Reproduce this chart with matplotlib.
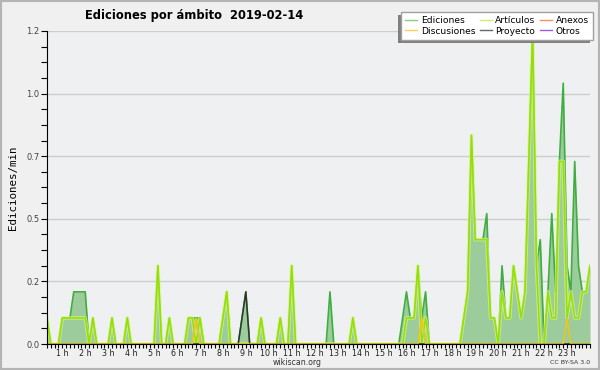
import numpy as np
import matplotlib.pyplot as plt
from matplotlib.lines import Line2D
from matplotlib.patches import Rectangle

# edits per minute, one value per 10-minute slot (one row per hour)
ediciones = [
    0.1, 0, 0, 0, 0.1, 0.1,
    0.1, 0.2, 0.2, 0.2, 0.2, 0,
    0.1, 0, 0, 0, 0, 0.1,
    0, 0, 0, 0.1, 0, 0,
    0, 0, 0, 0, 0, 0.3,
    0, 0, 0.1, 0, 0, 0,
    0, 0.1, 0.1, 0.1, 0.1, 0,
    0, 0, 0, 0, 0.1, 0.2,
    0, 0, 0, 0.1, 0.2, 0,
    0, 0, 0.1, 0, 0, 0,
    0, 0.1, 0, 0, 0.3, 0,
    0, 0, 0, 0, 0, 0,
    0, 0, 0.2, 0, 0, 0,
    0, 0, 0.1, 0, 0, 0,
    0, 0, 0, 0, 0, 0,
    0, 0, 0, 0.1, 0.2, 0.1,
    0.1, 0.3, 0.1, 0.2, 0, 0,
    0, 0, 0, 0, 0, 0,
    0, 0.1, 0.2, 0.8, 0.4, 0.4,
    0.4, 0.5, 0.1, 0.1, 0, 0.3,
    0.1, 0.1, 0.3, 0.2, 0.1, 0.2,
    0.7, 1.2, 0.3, 0.4, 0, 0.2,
    0.5, 0.2, 0.7, 1.0, 0.3, 0.2,
    0.7, 0.3, 0.2, 0.2, 0.3,
]
articulos = [
    0.1, 0, 0, 0, 0.1, 0.1,
    0.1, 0.1, 0.1, 0.1, 0.1, 0,
    0.1, 0, 0, 0, 0, 0.1,
    0, 0, 0, 0.1, 0, 0,
    0, 0, 0, 0, 0, 0.3,
    0, 0, 0.1, 0, 0, 0,
    0, 0.1, 0.1, 0, 0.1, 0,
    0, 0, 0, 0, 0.1, 0.2,
    0, 0, 0, 0, 0, 0,
    0, 0, 0.1, 0, 0, 0,
    0, 0.1, 0, 0, 0.3, 0,
    0, 0, 0, 0, 0, 0,
    0, 0, 0, 0, 0, 0,
    0, 0, 0.1, 0, 0, 0,
    0, 0, 0, 0, 0, 0,
    0, 0, 0, 0, 0.1, 0.1,
    0.1, 0.3, 0, 0.1, 0, 0,
    0, 0, 0, 0, 0, 0,
    0, 0.1, 0.2, 0.8, 0.4, 0.4,
    0.4, 0.4, 0.1, 0.1, 0, 0.2,
    0.1, 0.1, 0.3, 0.2, 0.1, 0.2,
    0.7, 1.2, 0.3, 0, 0, 0.2,
    0.1, 0.1, 0.7, 0.7, 0.1, 0.2,
    0.1, 0.1, 0.2, 0.2, 0.3,
]
discusiones = [
    0, 0, 0, 0, 0, 0,  0, 0, 0, 0, 0, 0,  0, 0, 0, 0, 0, 0,
    0, 0, 0, 0, 0, 0,  0, 0, 0, 0, 0, 0,  0, 0, 0, 0, 0, 0,
    0, 0, 0, 0.1, 0, 0,  0, 0, 0, 0, 0, 0,  0, 0, 0, 0, 0, 0,
    0, 0, 0, 0, 0, 0,  0, 0, 0, 0, 0, 0,  0, 0, 0, 0, 0, 0,
    0, 0, 0, 0, 0, 0,  0, 0, 0, 0, 0, 0,  0, 0, 0, 0, 0, 0,
    0, 0, 0, 0, 0, 0,  0, 0, 0.1, 0, 0, 0,  0, 0, 0, 0, 0, 0,
    0, 0, 0, 0, 0, 0,  0, 0, 0, 0, 0, 0,  0, 0, 0, 0, 0, 0,
    0, 0, 0, 0, 0, 0,  0, 0, 0, 0, 0.1, 0,  0, 0, 0, 0, 0,
]
proyecto = [
    0, 0, 0, 0, 0, 0,  0, 0, 0, 0, 0, 0,  0, 0, 0, 0, 0, 0,
    0, 0, 0, 0, 0, 0,  0, 0, 0, 0, 0, 0,  0, 0, 0, 0, 0, 0,
    0, 0, 0, 0, 0, 0,  0, 0, 0, 0, 0, 0,  0, 0, 0, 0.1, 0.2, 0,
    0, 0, 0, 0, 0, 0,  0, 0, 0, 0, 0, 0,  0, 0, 0, 0, 0, 0,
    0, 0, 0, 0, 0, 0,  0, 0, 0, 0, 0, 0,  0, 0, 0, 0, 0, 0,
    0, 0, 0, 0, 0, 0,  0, 0, 0, 0, 0, 0,  0, 0, 0, 0, 0, 0,
    0, 0, 0, 0, 0, 0,  0, 0, 0, 0, 0, 0,  0, 0, 0, 0, 0, 0,
    0, 0, 0, 0, 0, 0,  0, 0, 0, 0, 0, 0,  0, 0, 0, 0, 0,
]
anexos = [0] * len(ediciones)
otros = [0] * len(ediciones)

hours = list(range(1, 24))
hour_labels = [f'{h} h' for h in hours]

x = np.arange(len(ediciones))

fig = plt.figure(figsize=(6, 3.7), dpi=100, facecolor='#f0f0f0')
ax = fig.add_axes([47 / 600, 26 / 370, 543 / 600, 313 / 370])
ax.set_facecolor('#eff0f2')

ax.fill_between(x, ediciones, color='#9ccb9c', lw=0, zorder=2)
ax.plot(x, anexos, color='#f07f4a', lw=1, zorder=3)
ax.plot(x, otros, color='#9b40e8', lw=1, zorder=3)
ax.plot(x, ediciones, color='#3fae3f', lw=1.2, zorder=3)
ax.plot(x, articulos, color='#d6f58a', lw=2.6, alpha=0.7, zorder=3)
ax.plot(x, articulos, color='#96e000', lw=1.1, zorder=3)
ax.plot(x, proyecto, color='#333333', lw=1.1, zorder=4)
ax.plot(x, discusiones, color='#f0c419', lw=1.1, zorder=4)

ax.set_xlim(0, len(ediciones) - 1)
ax.set_ylim(0, 1.2)

yt = np.arange(0, 1.21, 0.24)
ax.set_yticks(yt, [f'{v:.1f}' for v in yt])
ax.set_yticks(np.arange(0, 1.21, 0.06), minor=True)
ax.set_xticks([6 * h - 2 for h in hours], hour_labels)
ax.set_xticks(x, minor=True)
ax.tick_params(axis='y', which='both', length=4, width=0.8, pad=1.5,
               labelsize=6, labelcolor='#444444')
ax.tick_params(axis='x', which='both', length=3, width=0.8, pad=0.3,
               labelsize=5.8, labelcolor='#222222')
ax.yaxis.grid(True, color='#cdcdcd', lw=1)
ax.set_axisbelow(True)
for s in ['top', 'right']:
    ax.spines[s].set_visible(False)
for s in ['left', 'bottom']:
    ax.spines[s].set_zorder(5)

ax.set_ylabel('Ediciones/min', family='DejaVu Sans Mono', fontsize=7.8,
              labelpad=6)

fig.text(85 / 600, 1 - 15 / 370, 'Ediciones por ámbito  2019-02-14',
         weight='bold', fontsize=8.3, va='center', ha='left')
fig.text(297 / 600, 1 - 362.5 / 370, 'wikiscan.org', fontsize=5.6,
         color='#333333', ha='center', va='center')
fig.text(590 / 600, 1 - 362.5 / 370, 'CC BY-SA 3.0', fontsize=4.5,
         color='#333333', ha='right', va='center')

names = ['Ediciones', 'Discusiones', 'Artículos', 'Proyecto', 'Anexos', 'Otros']
colors = ['#88cc88', '#f8d35a', '#ccf066', '#666666', '#f49064', '#9d5ce6']
handles = [Line2D([], [], color=c, lw=1) for c in colors]
leg = fig.legend(handles, names, ncol=3, loc='upper right',
                 bbox_to_anchor=(593 / 600, 1 - 12 / 370), borderaxespad=0,
                 fontsize=6.6, handlelength=1.3, handletextpad=0.4,
                 columnspacing=0.5, labelspacing=0.15, borderpad=0.45,
                 fancybox=False, framealpha=1, edgecolor='#a0a0a0',
                 facecolor='white')
leg.get_frame().set_linewidth(1)

fig.canvas.draw()
bb = leg.get_window_extent().transformed(fig.transFigure.inverted())
fig.patches.append(Rectangle((bb.x0 - 3 / 600, bb.y0 - 3 / 370), bb.width, bb.height,
                             transform=fig.transFigure, color='#808080',
                             zorder=4, lw=0))
fig.patches.append(Rectangle((0, 0), 1, 1, transform=fig.transFigure, fill=False,
                             edgecolor='#b4b4b4', lw=3, zorder=10))

fig.savefig('out.png', dpi=100, facecolor=fig.get_facecolor())
